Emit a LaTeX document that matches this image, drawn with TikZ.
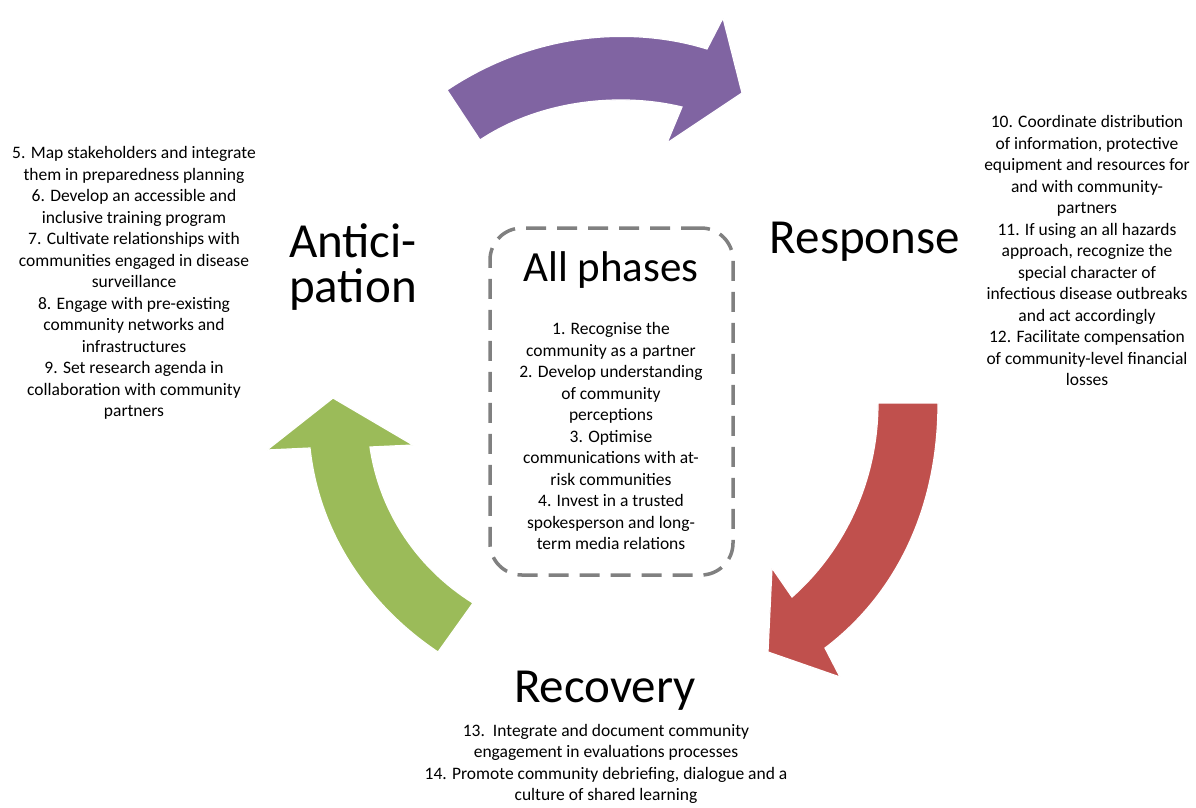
\documentclass[tikz,border=0pt]{standalone}
\usepackage{fontspec}
\setmainfont{Carlito}
\usepackage{tikz}

\definecolor{purpleArrow}{HTML}{8064A2}
\definecolor{redArrow}{HTML}{C0504D}
\definecolor{greenArrow}{HTML}{9BBB59}
\definecolor{boxGray}{HTML}{808080}

\begin{document}
\begin{tikzpicture}[x=1pt,y=-1pt,
    phasetitle/.style={align=center, font=\fontsize{49}{45}\selectfont},
    itemlist/.style={align=center, font=\fontsize{17.5}{21.5}\selectfont, inner sep=0pt},
    cyclearrow/.style={draw=white, line width=1.2pt}]
    \useasboundingbox (0,0) rectangle (1196,807);

    % Pijl anticipatie -> respons
    \fill[purpleArrow, cyclearrow] (447,90) .. controls (540,28) and (640,28) .. (707,49)
        -- (723,18) -- (742,93) -- (667,143) -- (682,107)
        .. controls (620,92) and (540,100) .. (480,140) -- cycle;

    % Pijl respons -> herstel
    \fill[redArrow, cyclearrow] (878,403) -- (938,403) .. controls (938,510) and (895,595) .. (825,648)
        -- (840,677) -- (768,652) -- (772,568) -- (792,597)
        .. controls (845,550) and (878,480) .. (878,403) -- cycle;

    % Pijl herstel -> anticipatie
    \fill[greenArrow, cyclearrow] (333,398) -- (413,445) -- (370,447)
        .. controls (380,515) and (420,570) .. (473,603) -- (438,652)
        .. controls (375,610) and (320,540) .. (310,448) -- (267,450) -- cycle;

    % Alle fasen
    \node[draw=boxGray, line width=3.5pt, dash pattern=on 20pt off 11pt, rounded corners=32pt,
        minimum width=243, minimum height=347] (phasebox) at (611.5,401.5) {};
    \node[align=center, font=\fontsize{43}{45}\selectfont] (allph) at (611,270) {All phases};
    \node[itemlist] (allitems) at (611,436) {1. Recognise the\\community as a partner\\2. Develop understanding\\of community\\perceptions\\3. Optimise\\communications with at-\\risk communities\\4. Invest in a trusted\\spokesperson and long-\\term media relations};

    % Anticipatie
    \node[phasetitle] (antic) at (353,267) {Antici-\\pation};
    \node[itemlist] (anticitems) at (134,283) {5. Map stakeholders and integrate\\them in preparedness planning\\6. Develop an accessible and\\inclusive training program\\7. Cultivate relationships with\\communities engaged in disease\\surveillance\\8. Engage with pre-existing\\community networks and\\infrastructures\\9. Set research agenda in\\collaboration with community\\partners};

    % Respons
    \node[phasetitle] (resp) at (865,242) {Response};
    \node[itemlist] (respitems) at (1087,250.5) {10. Coordinate distribution\\of information, protective\\equipment and resources for\\and with community-\\partners\\11. If using an all hazards\\approach, recognize the\\special character of\\infectious disease outbreaks\\and act accordingly\\12. Facilitate compensation\\of community-level financial\\losses};

    % Herstel
    \node[phasetitle] (recov) at (605,691) {Recovery};
    \node[itemlist] (recovitems) at (606,764) {13.\ \ Integrate and document community\\engagement in evaluations processes\\14. Promote community debriefing, dialogue and a\\culture of shared learning};
\end{tikzpicture}
\end{document}
